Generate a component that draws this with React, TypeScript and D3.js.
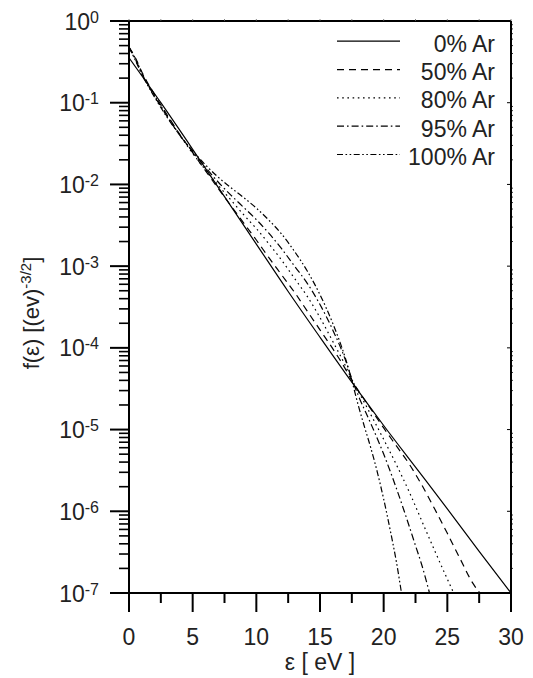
import React from "react";
import * as d3 from "d3";

// ---- data (energy in eV, values are log10 of f(ε) in (eV)^-3/2) ----
const X_TICKS = [0, 5, 10, 15, 20, 25, 30];
const X_MINOR = [2.5, 7.5, 12.5, 17.5, 22.5, 27.5];
const Y_EXPONENTS = [0, -1, -2, -3, -4, -5, -6, -7];
const LEGEND_LABELS = ["0% Ar", "50% Ar", "80% Ar", "95% Ar", "100% Ar"];

const energy0 = [0, 2.5, 5, 7.5, 10, 12.5, 15, 17.5, 20, 22.5, 25, 27.5, 30];
const logF0 = [-0.45, -1.0, -1.57, -2.15, -2.73, -3.31, -3.87, -4.42, -4.95, -5.46, -5.97, -6.49, -7.0];

const energy50 = [0, 0.5, 1, 2, 3, 4, 5, 6, 7, 8, 9, 10, 11, 12, 13, 14, 15, 16, 17, 17.5, 18, 19, 20, 21, 22, 23, 24, 25, 26, 27, 27.55];
const logF50 = [-0.32, -0.45, -0.62, -0.9, -1.15, -1.39, -1.61, -1.83, -2.05, -2.26, -2.47, -2.68, -2.9, -3.11, -3.32, -3.55, -3.78, -4.01, -4.26, -4.4, -4.52, -4.75, -4.98, -5.2, -5.42, -5.68, -5.97, -6.27, -6.58, -6.88, -7.0];

const energy80 = [0, 0.5, 1, 2, 3, 4, 5, 6, 7, 8, 9, 10, 11, 12, 13, 14, 15, 16, 17, 17.5, 18, 19, 20, 21, 22, 23, 24, 25, 25.5];
const logF80 = [-0.32, -0.46, -0.63, -0.91, -1.16, -1.4, -1.62, -1.82, -2.01, -2.19, -2.37, -2.54, -2.73, -2.93, -3.15, -3.37, -3.63, -3.92, -4.22, -4.39, -4.53, -4.82, -5.12, -5.43, -5.76, -6.12, -6.48, -6.83, -7.0];

const energy95 = [0, 0.5, 1, 2, 3, 4, 5, 6, 7, 8, 9, 10, 11, 12, 13, 14, 15, 16, 17, 17.5, 18, 19, 20, 21, 22, 22.5, 23, 23.6];
const logF95 = [-0.32, -0.47, -0.64, -0.92, -1.17, -1.4, -1.6, -1.79, -1.97, -2.13, -2.28, -2.43, -2.6, -2.79, -3.0, -3.21, -3.47, -3.78, -4.15, -4.38, -4.58, -4.93, -5.3, -5.72, -6.18, -6.42, -6.66, -7.0];

const energy100 = [0, 0.5, 1, 2, 3, 4, 5, 6, 7, 8, 9, 10, 11, 12, 13, 14, 15, 16, 17, 17.5, 18, 18.5, 19, 19.5, 20, 20.5, 21, 21.4];
const logF100 = [-0.32, -0.48, -0.65, -0.93, -1.18, -1.4, -1.59, -1.76, -1.91, -2.04, -2.16, -2.29, -2.44, -2.61, -2.82, -3.06, -3.35, -3.7, -4.13, -4.4, -4.7, -4.97, -5.23, -5.52, -5.85, -6.22, -6.62, -7.0];

const SERIES = [
  { e: energy0, v: logF0, dash: "none" },
  { e: energy50, v: logF50, dash: "7,5" },
  { e: energy80, v: logF80, dash: "1.6,3.6" },
  { e: energy95, v: logF95, dash: "7,3,1.6,3" },
  { e: energy100, v: logF100, dash: "6,2.5,1.6,2.5,1.6,2.5" },
];

const W = 533;
const H = 678;
const L = 129, R = 511, T = 21, B = 593;
const FONT = "'Liberation Sans', Arial, Helvetica, sans-serif";

export default function App() {
  const x = d3.scaleLinear().domain([0, 30]).range([L, R]);
  const y = d3.scaleLog().domain([1e-7, 1]).range([B, T]);

  const line = d3
    .line<[number, number]>()
    .x((d) => x(d[0]))
    .y((d) => y(Math.pow(10, d[1])))
    .curve(d3.curveMonotoneX);

  const minorY: number[] = [];
  for (let p = -7; p < 0; p++) {
    for (let k = 2; k <= 9; k++) minorY.push(k * Math.pow(10, p));
  }

  return (
    <svg
      width={W}
      height={H}
      style={{ position: "absolute", left: 0, top: 0, display: "block", background: "#fff" }}
      fontFamily={FONT}
    >
      <defs>
        <clipPath id="plotclip">
          <rect x={L} y={T - 1} width={R - L} height={B - T + 2} />
        </clipPath>
      </defs>

      {/* curves */}
      <g clipPath="url(#plotclip)" fill="none" stroke="#000" strokeWidth={1.2}>
        {SERIES.map((s, i) => (
          <path
            key={i}
            d={line(s.e.map((e, j) => [e, s.v[j]] as [number, number])) || ""}
            strokeDasharray={s.dash}
          />
        ))}
      </g>

      {/* frame */}
      <g stroke="#000" strokeWidth={2} fill="none">
        <line x1={L} x2={R} y1={T} y2={T} />
        <line x1={R} x2={R} y1={T} y2={B} />
        <line x1={L} x2={L} y1={T} y2={B} />
        <line x1={L} x2={R} y1={B} y2={B} />
      </g>

      {/* y ticks */}
      <g stroke="#000">
        {Y_EXPONENTS.map((p) => (
          <line key={"ym" + p} x1={L - 19} x2={L} y1={y(Math.pow(10, p))} y2={y(Math.pow(10, p))} strokeWidth={2} />
        ))}
        {minorY.map((v, i) => (
          <line key={"yn" + i} x1={L - 10} x2={L} y1={y(v)} y2={y(v)} strokeWidth={1.6} />
        ))}
        {Y_EXPONENTS.map((p) => (
          <line key={"yr" + p} x1={R - 4} x2={R} y1={y(Math.pow(10, p))} y2={y(Math.pow(10, p))} strokeWidth={1} />
        ))}
        {minorY.map((v, i) => (
          <line key={"yrn" + i} x1={R} x2={R + 2} y1={y(v)} y2={y(v)} strokeWidth={0.8} />
        ))}
      </g>

      {/* x ticks */}
      <g stroke="#000">
        {X_TICKS.map((t) => (
          <line key={"xm" + t} x1={x(t)} x2={x(t)} y1={B} y2={B + 19} strokeWidth={2} />
        ))}
        {X_MINOR.map((t) => (
          <line key={"xn" + t} x1={x(t)} x2={x(t)} y1={B} y2={B + 10} strokeWidth={2} />
        ))}
        {X_TICKS.concat(X_MINOR).map((t) => (
          <line key={"xt" + t} x1={x(t)} x2={x(t)} y1={T} y2={T - 2} strokeWidth={0.8} stroke="#666" />
        ))}
      </g>

      {/* x tick labels */}
      <g fontSize={23} textAnchor="middle" fill="#222">
        {X_TICKS.map((t) => (
          <text key={"xl" + t} x={x(t)} y={645}>
            {t}
          </text>
        ))}
      </g>

      {/* y tick labels */}
      <g fontSize={23} textAnchor="end" fill="#222">
        {Y_EXPONENTS.map((p) => (
          <text key={"yl" + p} x={99} y={y(Math.pow(10, p)) + 8.5}>
            10
            <tspan fontSize={16} dy={-7}>
              {String(p)}
            </tspan>
          </text>
        ))}
      </g>

      {/* axis titles */}
      <text x={(L + R) / 2} y={670} fontSize={23} textAnchor="middle" fill="#222">
        ε [ eV ]
      </text>
      <text
        transform={`translate(39, 313) rotate(-90)`}
        fontSize={22}
        textAnchor="middle"
        fill="#222"
      >
        f(ε) [(ev)
        <tspan fontSize={15} dy={-8}>
          -3/2
        </tspan>
        <tspan dy={8}>]</tspan>
      </text>

      {/* legend */}
      <g>
        {LEGEND_LABELS.map((lab, i) => {
          const base = 51.7 + i * 28.33;
          return (
            <g key={lab}>
              <line
                x1={337}
                x2={400}
                y1={base - 10.5}
                y2={base - 10.5}
                stroke="#000"
                strokeWidth={1.2}
                strokeDasharray={SERIES[i].dash}
              />
              <text x={495} y={base} fontSize={23} textAnchor="end" fill="#222">
                {lab}
              </text>
            </g>
          );
        })}
      </g>
    </svg>
  );
}
